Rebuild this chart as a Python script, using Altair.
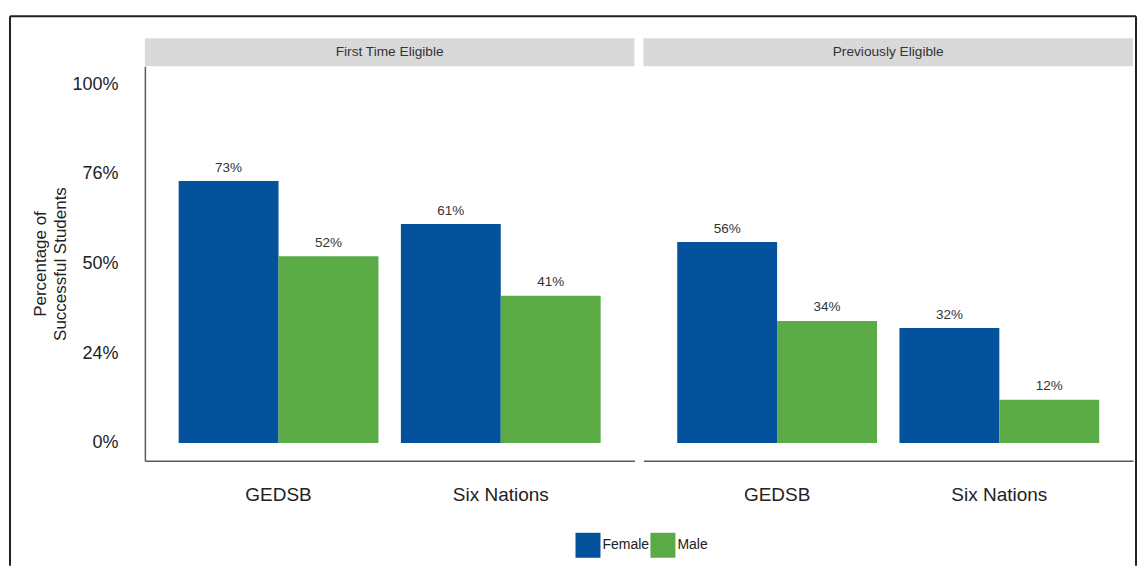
import altair as alt
import pandas as pd

# ---- data ----
panels = ["First Time Eligible", "Previously Eligible"]
schools = ["GEDSB", "Six Nations"]
genders = ["Female", "Male"]
first_female = [73, 61]
first_male = [52, 41]
prev_female = [56, 32]
prev_male = [34, 12]
y_tick_values = [0, 25, 50, 75, 100]
y_tick_labels = ["0%", "24%", "50%", "76%", "100%"]
colors = ["#03529B", "#5AAB46"]

rows = []
for panel, fem, mal in [(panels[0], first_female, first_male), (panels[1], prev_female, prev_male)]:
    for i, s in enumerate(schools):
        rows.append({"panel": panel, "school": s, "gender": "Female", "value": fem[i]})
        rows.append({"panel": panel, "school": s, "gender": "Male", "value": mal[i]})
df = pd.DataFrame(rows)
df["label"] = df["value"].astype(str) + "%"

label_expr = " : ".join(
    f"datum.value == {v} ? '{l}'" for v, l in zip(y_tick_values, y_tick_labels)
) + " : ''"

W = 490
H = 395
DARK = "#222222"
AXC = "#595959"

x_enc = alt.X(
    "school:N", sort=schools,
    scale=alt.Scale(paddingInner=0.101, paddingOuter=0.152),
    axis=alt.Axis(title=None, labelAngle=0, labelFontSize=19, labelColor=DARK,
                  ticks=False, tickSize=0, labelPadding=25,
                  domainColor=AXC, domainWidth=1.5),
)
xo_enc = alt.XOffset("gender:N", sort=genders)
y_enc = alt.Y(
    "value:Q",
    scale=alt.Scale(domain=[-5, 105], nice=False, zero=False),
    axis=alt.Axis(values=y_tick_values, labelExpr=label_expr, grid=False,
                  ticks=False, tickSize=0, labelFontSize=18, labelColor=DARK,
                  labelPadding=27, domainColor=AXC, domainWidth=1.5,
                  title=["Percentage of", "Successful Students"],
                  titleFontSize=17, titleFontWeight="normal", titleColor=DARK,
                  titleLineHeight=20, titlePadding=2),
)

base = alt.Chart()

one_row = (alt.datum.school == "GEDSB") & (alt.datum.gender == "Female")

strip = base.mark_rect(color="#D9D9D9").encode(
    x=alt.value(0), x2=alt.value(W), y=alt.value(-28), y2=alt.value(0)
).transform_filter(one_row)

strip_text = base.mark_text(fontSize=13.7, color="#333333").encode(
    x=alt.value(W / 2), y=alt.value(-14), text="panel:N"
).transform_filter(one_row)

bars = base.mark_bar().encode(
    x=x_enc, xOffset=xo_enc, y=y_enc,
    color=alt.Color(
        "gender:N",
        scale=alt.Scale(domain=genders, range=colors),
        legend=alt.Legend(title=None, orient="none", direction="horizontal",
                          legendX=431, legendY=467, symbolType="square",
                          symbolSize=625, symbolStrokeWidth=0, symbolOpacity=1,
                          labelFontSize=14, labelColor=DARK, labelOffset=2,
                          columnPadding=1, padding=0),
    ),
)

labels = base.mark_text(baseline="alphabetic", dy=-9.5, fontSize=13.5, color="#333333").encode(
    x=alt.X("school:N", sort=schools), xOffset=xo_enc, y="value:Q", text="label:N"
)

frame_filter = one_row & (alt.datum.panel == panels[0])
frame_top = base.mark_rule(color=DARK, strokeWidth=2).encode(
    x=alt.value(-135), x2=alt.value(992), y=alt.value(-50)
).transform_filter(frame_filter)
frame_left = base.mark_rule(color=DARK, strokeWidth=2).encode(
    x=alt.value(-135), y=alt.value(-50), y2=alt.value(500)
).transform_filter(frame_filter)
frame_right = base.mark_rule(color=DARK, strokeWidth=2).encode(
    x=alt.value(992), y=alt.value(-50), y2=alt.value(500)
).transform_filter(frame_filter)

layered = alt.layer(
    strip, strip_text, bars, labels, frame_top, frame_left, frame_right, data=df
).properties(width=W, height=H)

chart = layered.facet(
    column=alt.Column("panel:N", sort=panels, header=alt.Header(labels=False, title=None)),
    spacing=9,
    bounds="flush",
).properties(
    padding={"left": 0, "top": 6, "right": 0, "bottom": 0}
).configure(
    font="Liberation Sans", background="white"
).configure_view(
    stroke="transparent"
)

chart.save("out.html", embed_options={"renderer": "svg", "actions": False})
